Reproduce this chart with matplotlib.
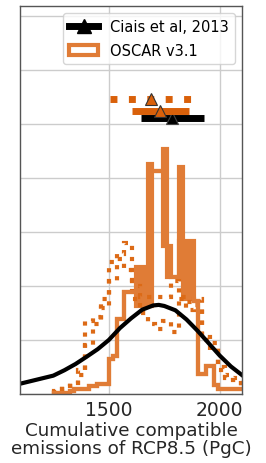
import matplotlib
matplotlib.use("Agg")
import matplotlib.pyplot as plt
import numpy as np
from matplotlib.lines import Line2D

hist_orange = '#E07C36'
dot_orange = '#DC6A16'
bar_orange = '#D9600A'

# fine bins (PgC); OSCAR solid histogram read as an upper / lower envelope
# (density, in 1e-3 per PgC) because the noisy bins fill a band
fine_edges = np.arange(1255, 2131, 17.5)
solid_upper = [0.02, 0.02, 0.02, 0.02, 0.06, 0.09, 0.09, 0.09, 0.09, 0.15,
               0.15, 0.19, 0.19, 0.19, 0.65, 0.70, 1.39, 1.39, 1.89, 1.89,
               1.89, 2.35, 2.35, 2.35, 4.26, 4.13, 4.13, 4.13, 4.54, 2.74,
               2.17, 2.17, 4.20, 2.83, 2.83, 2.83, 1.72, 0.37, 0.37, 0.52,
               0.52, 0.17, 0.09, 0.09, 0.09, 0.09, 0.09, 0.09, 0.09, 0.05]
solid_lower = [0.02, 0.02, 0.02, 0.02, 0.06, 0.09, 0.09, 0.09, 0.09, 0.15,
               0.15, 0.19, 0.19, 0.19, 0.65, 0.70, 1.39, 1.39, 1.89, 1.89,
               1.89, 1.63, 1.63, 1.63, 1.63, 4.13, 4.13, 4.13, 2.74, 2.17,
               2.17, 2.17, 2.83, 1.76, 1.76, 1.76, 1.72, 0.37, 0.37, 0.52,
               0.52, 0.17, 0.09, 0.09, 0.09, 0.09, 0.09, 0.09, 0.09, 0.05]

# coarse bins for the two dotted OSCAR histograms
dot_edges = np.arange(1255, 2131, 35)
oscar_dot_a = [0.05, 0.15, 0.20, 0.45, 1.35, 1.42, 1.75, 2.45, 2.60, 2.80,
               2.00, 1.80, 1.80, 1.80, 1.80, 2.10, 1.75, 1.70, 1.65, 1.00,
               0.95, 0.50, 0.35, 0.30, 0.20]
oscar_dot_b = [0.03, 0.10, 0.15, 0.35, 0.90, 1.30, 1.60, 2.10, 2.50, 2.30,
               1.75, 1.50, 1.30, 1.20, 1.35, 1.15, 1.80, 1.55, 1.75, 1.05,
               0.80, 0.45, 0.30, 0.25, 0.10]

# Ciais et al, 2013 distribution
ciais_x = [1100, 1150, 1200, 1250, 1300, 1350, 1400, 1450, 1500, 1550, 1600,
           1650, 1700, 1725, 1750, 1800, 1850, 1900, 1950, 2000, 2050, 2100]
ciais_y = [0.19, 0.24, 0.29, 0.34, 0.44, 0.555, 0.69, 0.83, 1.00, 1.22, 1.40,
           1.56, 1.64, 1.65, 1.63, 1.55, 1.38, 1.17, 0.94, 0.71, 0.51, 0.35]

# ranges: (low, best, high, height)
ciais_range = (1646, 1786, 1930, 5.11)
oscar_range = (1605, 1731, 1862, 5.24)
oscar_dot_range = (1506, 1691, 1890, 5.46)

fig = plt.figure(figsize=(2.66, 4.64), dpi=100)
ax = fig.add_axes([20 / 266, 1 - 395 / 464, 222 / 266, 388 / 464])

dot_centers = (dot_edges[:-1] + dot_edges[1:]) / 2
for vals in (oscar_dot_a, oscar_dot_b):
    ax.hist(dot_centers, bins=dot_edges, weights=vals, histtype='step',
            color=dot_orange, lw=3, ls=':')

fine_centers = (fine_edges[:-1] + fine_edges[1:]) / 2
ax.stairs(solid_upper, fine_edges, baseline=solid_lower, fill=True,
          color=hist_orange, lw=0)
ax.stairs(solid_lower, fine_edges, color=hist_orange, lw=3)
_, _, patches = ax.hist(fine_centers, bins=fine_edges, weights=solid_upper,
                        histtype='step', color=hist_orange, lw=3)

ax.plot(ciais_x, ciais_y, color='k', lw=3)

# ranges at the top
lo, best, hi, h = ciais_range
ax.plot([lo, hi], [h, h], color='k', lw=5, solid_capstyle='butt')
ax.plot([best], [h], marker='^', ms=9, color='k', mec='#444444', mew=0.8)

lo, best, hi, h = oscar_range
ax.plot([lo, hi], [h, h], color=bar_orange, lw=5, solid_capstyle='butt')
ax.plot([best], [h], marker='^', ms=9, color=bar_orange, mec='#333333', mew=0.8)

lo, best, hi, h = oscar_dot_range
ax.plot([lo, hi], [h, h], color=bar_orange, lw=5, ls=':')
ax.plot([best], [h], marker='^', ms=9, color=bar_orange, mec='#333333', mew=0.8)

ax.set_xlim(1100, 2100)
ax.set_ylim(0, 7.185)
ax.set_xticks([1500, 2000])
ax.set_yticks(np.arange(0, 8))
ax.set_yticklabels([])
ax.tick_params(axis='both', length=0, labelsize=13.5, colors='#262626', pad=4)
ax.grid(color='#cccccc', lw=1)
ax.set_axisbelow(True)
for sp in ax.spines.values():
    sp.set_color('#555555')
    sp.set_linewidth(1)

ax.set_xlabel('Cumulative compatible\nemissions of RCP8.5 (PgC)',
              fontsize=13.2, linespacing=0.95, color='#262626', labelpad=2)

handles = [Line2D([], [], color='k', lw=5, marker='^', ms=10), patches[0]]
ax.legend(handles, ['Ciais et al, 2013', 'OSCAR v3.1'], loc='upper right',
          fontsize=10.5, labelspacing=0.6, edgecolor='#cccccc')

fig.savefig('out.png', dpi=100)
